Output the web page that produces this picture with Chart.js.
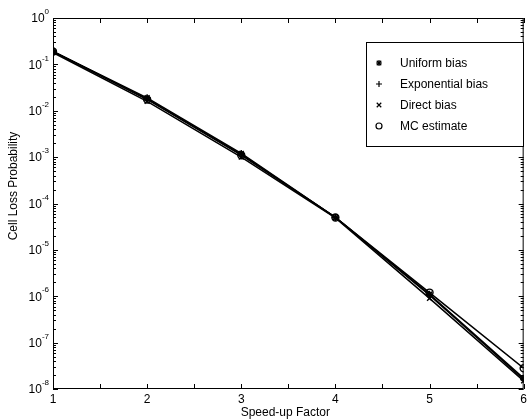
<!DOCTYPE html>
<html>
<head>
<meta charset="utf-8">
<script src="https://cdn.jsdelivr.net/npm/chart.js@4.4.0/dist/chart.umd.min.js"></script>
<style>
  html, body { margin: 0; padding: 0; background: #fff; }
  #wrap { width: 530px; height: 420px; }
</style>
</head>
<body>
<div id="wrap"><canvas id="c"></canvas></div>
<script>
'use strict';

/* ── Data ─────────────────────────────────────────────────────────────── */
const speedUp = [1, 2, 3, 4, 5, 6];
const uniformBias     = [0.19, 1.9e-2, 1.2e-3, 5.0e-5, 1.1e-6, 1.7e-8];
const exponentialBias = [0.19, 1.8e-2, 1.15e-3, 5.0e-5, 1.05e-6, 1.6e-8];
const directBias      = [0.18, 1.6e-2, 1.0e-3, 4.9e-5, 9.0e-7, 1.5e-8];
const mcEstimate      = [0.19, 1.75e-2, 1.1e-3, 5.0e-5, 1.2e-6, 2.8e-8];
const xTicks = [1, 2, 3, 4, 5, 6];
const yExps = [0, -1, -2, -3, -4, -5, -6, -7, -8];
const seriesNames = ['Uniform bias', 'Exponential bias', 'Direct bias', 'MC estimate'];

const FONT = '"Liberation Sans", Arial, Helvetica, sans-serif';
const pts = ys => speedUp.map((x, i) => ({ x, y: ys[i] }));

/* ── Marker drawing (legend) ───────────────────────────────────────────── */
function mark(ctx, kind, x, y, r) {
  ctx.beginPath();
  if (kind === 'circle') {
    ctx.arc(x, y, r, 0, Math.PI * 2);
  } else {
    if (kind === 'cross' || kind === 'star') {
      ctx.moveTo(x - r, y); ctx.lineTo(x + r, y);
      ctx.moveTo(x, y - r); ctx.lineTo(x, y + r);
    }
    if (kind === 'crossRot' || kind === 'star') {
      const d = r * 0.75;
      ctx.moveTo(x - d, y - d); ctx.lineTo(x + d, y + d);
      ctx.moveTo(x - d, y + d); ctx.lineTo(x + d, y - d);
    }
  }
  ctx.stroke();
}

/* ── Frame, inward ticks, labels, legend ───────────────────────────────── */
const framePlugin = {
  id: 'frame',
  afterDraw(chart) {
    const { ctx, chartArea: a, scales: { x, y } } = chart;
    ctx.save();
    ctx.strokeStyle = '#000';
    ctx.lineWidth = 1;
    ctx.strokeRect(a.left + 0.5, a.top + 0.5, a.right - a.left - 1, a.bottom - a.top - 1);

    // x ticks every 0.5, top and bottom
    ctx.beginPath();
    for (let v = 1; v <= 6.001; v += 0.5) {
      const px = Math.round(x.getPixelForValue(v)) + 0.5;
      ctx.moveTo(px, a.bottom); ctx.lineTo(px, a.bottom - 5);
      ctx.moveTo(px, a.top); ctx.lineTo(px, a.top + 5);
    }
    // y ticks: majors at decades, minors 2..9
    yExps.forEach(e => {
      const py = Math.round(y.getPixelForValue(Math.pow(10, e))) + 0.5;
      ctx.moveTo(a.left, py); ctx.lineTo(a.left + 5, py);
      ctx.moveTo(a.right, py); ctx.lineTo(a.right - 5, py);
      if (e < 0) {
        for (let m = 2; m <= 9; m++) {
          const q = Math.round(y.getPixelForValue(m * Math.pow(10, e))) + 0.5;
          ctx.moveTo(a.left, q); ctx.lineTo(a.left + 3, q);
          ctx.moveTo(a.right, q); ctx.lineTo(a.right - 3, q);
        }
      }
    });
    ctx.stroke();

    // y tick labels 10^e
    ctx.fillStyle = '#000';
    ctx.textBaseline = 'middle';
    yExps.forEach(e => {
      const py = y.getPixelForValue(Math.pow(10, e));
      const sup = e === 0 ? '0' : '-' + (-e);
      ctx.font = '8px ' + FONT;
      const sw = ctx.measureText(sup).width;
      ctx.textAlign = 'left';
      ctx.fillText(sup, 49 - sw, py - 6);
      ctx.font = '12px ' + FONT;
      ctx.textAlign = 'right';
      ctx.fillText('10', 49 - sw, py + 1);
    });

    // axis titles
    ctx.font = '12px ' + FONT;
    ctx.textAlign = 'center';
    ctx.fillText('Speed-up Factor', (a.left + a.right) / 2 - 3, 413);
    ctx.save();
    ctx.translate(14, 186);
    ctx.rotate(-Math.PI / 2);
    ctx.fillText('Cell Loss Probability', 0, 0);
    ctx.restore();

    // legend box
    const lx = 366, ly = 42, lw = 157, lh = 104;
    ctx.fillStyle = '#fff';
    ctx.fillRect(lx, ly, lw, lh);
    ctx.strokeRect(lx + 0.5, ly + 0.5, lw, lh);
    ctx.font = '12px ' + FONT;
    ctx.textAlign = 'left';
    ctx.fillStyle = '#000';
    const rows = [63, 84, 105, 126];
    chart.data.datasets.forEach((ds, i) => {
      ctx.lineWidth = 1.2;
      mark(ctx, ds.pointStyle, 379, rows[i], 3);
      ctx.fillText(ds.label, 400, rows[i] + 1);
    });
    ctx.restore();
  }
};

/* ── Chart ─────────────────────────────────────────────────────────────── */
const styles = ['star', 'cross', 'crossRot', 'circle'];
const values = [uniformBias, exponentialBias, directBias, mcEstimate];

new Chart(document.getElementById('c'), {
  type: 'line',
  data: {
    datasets: values.map((v, i) => ({
      label: seriesNames[i],
      data: pts(v),
      borderColor: '#000',
      borderWidth: 1.5,
      pointStyle: styles[i],
      pointRadius: 3.5,
      pointBorderWidth: 1.4,
      pointBorderColor: '#000',
      pointBackgroundColor: 'rgba(0,0,0,0)',
      tension: 0
    }))
  },
  options: {
    responsive: true,
    maintainAspectRatio: false,
    animation: false,
    layout: { padding: { top: 18, right: 2, left: 0, bottom: 0 } },
    plugins: { legend: { display: false }, tooltip: { enabled: false } },
    scales: {
      x: {
        type: 'linear', min: 1, max: 6,
        afterBuildTicks: s => { s.ticks = xTicks.map(v => ({ value: v })); },
        afterFit: s => { s.height = 31; },
        grid: { display: false, drawTicks: false },
        border: { display: false },
        ticks: { color: '#000', padding: 3, font: { family: FONT, size: 12 } }
      },
      y: {
        type: 'logarithmic', min: 1e-8, max: 1,
        afterBuildTicks: s => { s.ticks = yExps.map(e => ({ value: Math.pow(10, e) })); },
        afterFit: s => { s.width = 53; },
        grid: { display: false, drawTicks: false },
        border: { display: false },
        ticks: { display: false }
      }
    }
  },
  plugins: [framePlugin]
});
</script>
</body>
</html>
